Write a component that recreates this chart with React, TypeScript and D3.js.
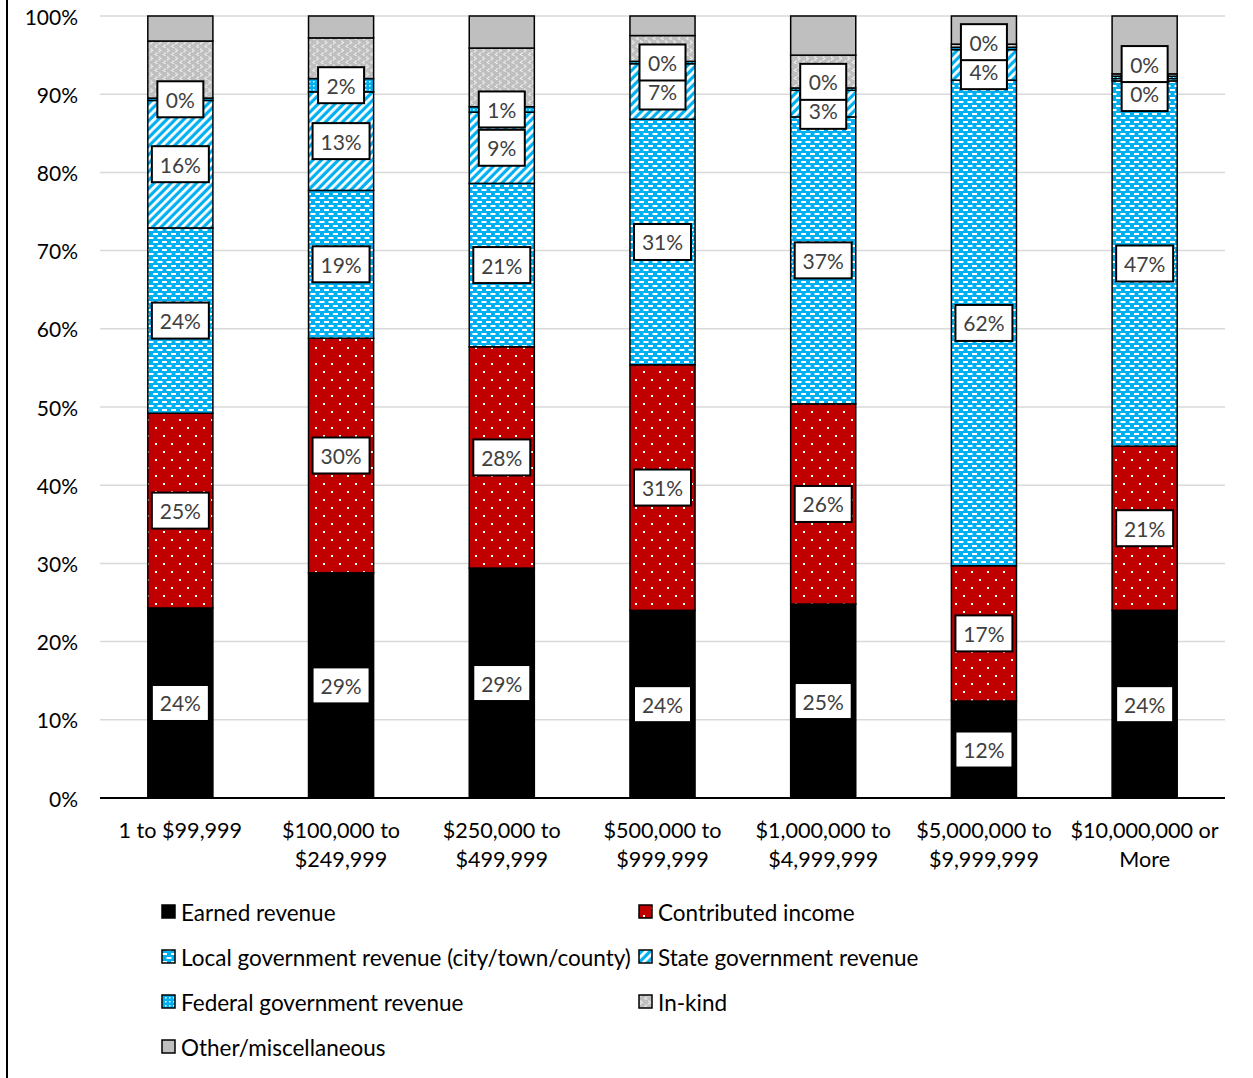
import React from "react";
import * as d3 from "d3";

const categories = [
  "1 to $99,999",
  "$100,000 to\n$249,999",
  "$250,000 to\n$499,999",
  "$500,000 to\n$999,999",
  "$1,000,000 to\n$4,999,999",
  "$5,000,000 to\n$9,999,999",
  "$10,000,000 or\nMore",
];

const seriesNames = [
  "Earned revenue",
  "Contributed income",
  "Local government revenue (city/town/county)",
  "State government revenue",
  "Federal government revenue",
  "In-kind",
  "Other/miscellaneous",
];

const earned = [24.3, 28.8, 29.4, 24.0, 24.8, 12.4, 24.0];
const contributed = [24.9, 30.0, 28.3, 31.4, 25.6, 17.3, 21.0];
const local = [23.7, 18.9, 20.9, 31.4, 36.7, 62.1, 46.7];
const stateGov = [16.3, 12.6, 9.1, 7.1, 3.4, 3.9, 0.3];
const federal = [0.3, 1.7, 0.7, 0.3, 0.3, 0.3, 0.3];
const inKind = [7.3, 5.2, 7.5, 3.3, 4.2, 0.4, 0.3];
const other = [3.2, 2.8, 4.1, 2.5, 5.0, 3.6, 7.4];

const seriesValues = [earned, contributed, local, stateGov, federal, inKind, other];
const labeledSeries = 5; // first five series carry data labels
const yTicks = [0, 10, 20, 30, 40, 50, 60, 70, 80, 90, 100];

const W = 1253;
const H = 1078;
const FONT = "Lato, 'Open Sans', sans-serif";
const FS = 21;
const FS_CAT = 21.6;
const FS_LEG = 22.5;

const fills = [
  "#000000",
  "url(#pContrib)",
  "url(#pLocal)",
  "url(#pState)",
  "url(#pFederal)",
  "url(#pInkind)",
  "#BFBFBF",
];

export default function App() {
  const left = 100;
  const right = 1225;
  const top = 16;
  const bottom = 798;

  const x = d3
    .scaleBand<number>()
    .domain(categories.map((_, i) => i))
    .range([left, right])
    .paddingInner(0.595)
    .paddingOuter(0.2975);
  const y = d3.scaleLinear().domain([0, 100]).range([bottom, top]);

  const table = categories.map((_, i) => {
    const row: Record<string, number> = { idx: i };
    seriesNames.forEach((s, k) => (row[s] = seriesValues[k][i]));
    return row;
  });
  const stack = d3.stack<Record<string, number>>().keys(seriesNames);
  const stacked = stack(table);

  // data labels with simple overlap resolution
  const labels: { x: number; y: number; text: string }[] = [];
  categories.forEach((_, i) => {
    const items = [] as { x: number; y: number; text: string }[];
    for (let k = 0; k < labeledSeries; k++) {
      const seg = stacked[k][i];
      items.push({
        x: (x(i) as number) + x.bandwidth() / 2,
        y: y((seg[0] + seg[1]) / 2),
        text: `${Math.round(seriesValues[k][i])}%`,
      });
    }
    const minGap = 29;
    for (let it = 0; it < 20; it++) {
      items.sort((a, b) => b.y - a.y);
      for (let j = 1; j < items.length; j++) {
        const lo = items[j - 1];
        const hi = items[j];
        const gap = lo.y - hi.y;
        if (gap < minGap) {
          const d = (minGap - gap) / 2;
          lo.y += d;
          hi.y -= d;
        }
      }
    }
    labels.push(...items);
  });

  const legendRows = [912, 957, 1002, 1047];
  const legendCols = [162, 639];

  return (
    <svg
      width={W}
      height={H}
      style={{ position: "absolute", left: 0, top: 0, background: "#fff" }}
      fontFamily={FONT}
    >
      <defs>
        <pattern id="pContrib" width="16" height="16" patternUnits="userSpaceOnUse">
          <rect width="16" height="16" fill="#C00000" />
          <rect x="3" y="3" width="2" height="2" fill="#fff" />
          <rect x="11" y="11" width="2" height="2" fill="#fff" />
        </pattern>
        <pattern id="pLocal" width="9" height="8" patternUnits="userSpaceOnUse">
          <rect width="9" height="8" fill="#00B0F0" />
          <rect x="0" y="1" width="5" height="2" fill="#fff" />
          <rect x="4.5" y="5" width="5" height="2" fill="#fff" />
          <rect x="-4.5" y="5" width="5" height="2" fill="#fff" />
        </pattern>
        <pattern
          id="pState"
          width="6"
          height="6"
          patternUnits="userSpaceOnUse"
          patternTransform="rotate(45)"
        >
          <rect width="6" height="6" fill="#00B0F0" />
          <rect x="0" y="0" width="2.8" height="6" fill="#fff" />
        </pattern>
        <pattern id="pFederal" width="4" height="4" patternUnits="userSpaceOnUse">
          <rect width="4" height="4" fill="#00B0F0" />
          <rect x="1" y="1" width="1.5" height="1.5" fill="#fff" />
        </pattern>
        <pattern id="pInkind" width="8.3" height="8" patternUnits="userSpaceOnUse">
          <rect width="8.3" height="8" fill="#BFBFBF" />
          <rect x="1" y="0.5" width="1.3" height="1.3" fill="#fff" />
          <rect x="2.3" y="1.8" width="1.3" height="1.3" fill="#fff" />
          <rect x="1" y="3.1" width="1.3" height="1.3" fill="#fff" />
          <rect x="6.6" y="4.5" width="1.3" height="1.3" fill="#fff" />
          <rect x="5.3" y="5.8" width="1.3" height="1.3" fill="#fff" />
          <rect x="6.6" y="7.1" width="1.3" height="1.3" fill="#fff" />
        </pattern>
      </defs>

      {/* chart-area left border */}
      <line x1={7} x2={7} y1={0} y2={H} stroke="#000" strokeWidth={2} />

      {/* gridlines */}
      {yTicks.map((t) => (
        <line
          key={`g${t}`}
          x1={left}
          x2={right}
          y1={y(t)}
          y2={y(t)}
          stroke="#D9D9D9"
          strokeWidth={1.5}
        />
      ))}
      {yTicks.map((t) => (
        <text
          key={`t${t}`}
          x={78}
          y={y(t)}
          textAnchor="end"
          dominantBaseline="central"
          fontSize={FS}
          fill="#000"
        >
          {`${t}%`}
        </text>
      ))}

      {/* bars */}
      {stacked.map((s, k) => (
        <g key={s.key}>
          {s.map((d, i) => (
            <rect
              key={i}
              x={x(i)}
              y={y(d[1])}
              width={x.bandwidth()}
              height={Math.max(0, y(d[0]) - y(d[1]))}
              fill={fills[k]}
              stroke="#000"
              strokeWidth={1.5}
            />
          ))}
        </g>
      ))}

      {/* x axis */}
      <line x1={left} x2={right} y1={bottom} y2={bottom} stroke="#000" strokeWidth={2} />
      {categories.map((c, i) => {
        const lines = c.split("\n");
        return (
          <text
            key={`c${i}`}
            x={(x(i) as number) + x.bandwidth() / 2}
            textAnchor="middle"
            fontSize={FS_CAT}
            fill="#000"
          >
            {lines.map((ln, j) => (
              <tspan key={j} x={(x(i) as number) + x.bandwidth() / 2} y={838 + j * 29}>
                {ln}
              </tspan>
            ))}
          </text>
        );
      })}

      {/* data labels */}
      {labels.map((l, i) => {
        const digits = l.text.length - 1;
        const w = 35 + 11 * digits;
        return (
          <g key={`l${i}`}>
            <rect
              x={l.x - w / 2}
              y={l.y - 18}
              width={w}
              height={36}
              fill="#fff"
              stroke="#000"
              strokeWidth={2}
            />
            <text
              x={l.x}
              y={l.y}
              textAnchor="middle"
              dominantBaseline="central"
              fontSize={FS}
              fill="#404040"
            >
              {l.text}
            </text>
          </g>
        );
      })}

      {/* legend */}
      {seriesNames.map((s, k) => {
        const row = Math.floor(k / 2);
        const col = k % 2;
        const lx = legendCols[col];
        const ly = legendRows[row];
        return (
          <g key={`lg${k}`}>
            <rect
              x={lx}
              y={ly - 7}
              width={13}
              height={13}
              fill={fills[k]}
              stroke="#000"
              strokeWidth={1.5}
            />
            <text
              x={lx + 19}
              y={ly}
              dominantBaseline="central"
              fontSize={FS_LEG}
              fill="#000"
            >
              {s}
            </text>
          </g>
        );
      })}
    </svg>
  );
}
